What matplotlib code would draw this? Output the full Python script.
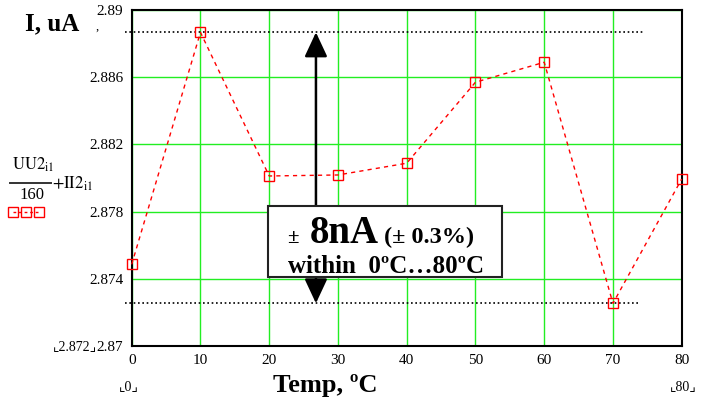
import matplotlib.pyplot as plt
from matplotlib.lines import Line2D
from matplotlib.patches import Rectangle

plt.rcParams['font.family'] = ['Liberation Serif', 'DejaVu Sans']
plt.rcParams['mathtext.fontset'] = 'stix'

# data
temp = [0, 10, 20, 30, 40, 50, 60, 70, 80]
current = [2.87486, 2.88867, 2.88012, 2.88018, 2.88088, 2.88570, 2.88689, 2.87254, 2.87994]
y_ticks = [2.87, 2.874, 2.878, 2.882, 2.886, 2.89]
y_tick_labels = ['2.87', '2.874', '2.878', '2.882', '2.886', '2.89']
x_ticks = [0, 10, 20, 30, 40, 50, 60, 70, 80]

W, H = 707, 403


def px(x, y):
    # pixel position -> figure fraction
    return x / W, 1 - y / H


fig = plt.figure(figsize=(W / 100, H / 100), dpi=100)
ax = fig.add_axes([131.7 / W, 1 - 346 / H, (681.7 - 131.7) / W, (346 - 10) / H])

ax.set_xlim(0, 80)
ax.set_ylim(2.87, 2.89)
ax.set_xticks(x_ticks)
ax.set_yticks(y_ticks)
ax.set_yticklabels(y_tick_labels)
ax.tick_params(length=0, labelsize=11, pad=6)
ax.grid(True, color='#22ee22', lw=1)
for s in ax.spines.values():
    s.set_color('black')
    s.set_linewidth(1.5)

# data line
ax.plot(temp, current, color='red', ls=(0, (3, 3)), lw=1, marker='s', ms=7,
        mfc='none', mec='red', mew=1, zorder=5, clip_on=False)

# max / min dotted lines
top = max(current)
bot = min(current)
ax.plot([-1, 74.5], [top, top], color='black', ls=(0, (1, 1.6)), lw=1.2, clip_on=False, zorder=3)
ax.plot([-1, 74], [bot, bot], color='black', ls=(0, (1, 1.6)), lw=1.2, clip_on=False, zorder=3)

# double arrow
ax.annotate('', xy=(26.8, top), xytext=(26.8, bot),
            arrowprops=dict(arrowstyle='<|-|>,head_length=0.75,head_width=0.35',
                            color='black', lw=1.8, shrinkA=0, shrinkB=0,
                            mutation_scale=20), zorder=6)

# text box
box = Rectangle((19.8, 2.87411), 53.9 - 19.8, 2.87833 - 2.87411, facecolor='white',
                edgecolor='#222222', lw=1.5, zorder=7)
ax.add_patch(box)
fig.text(*px(287, 243), '\u00b1', fontsize=15, fontweight='bold', zorder=8)
fig.text(*px(310, 243), '8nA', fontsize=28, fontweight='bold', zorder=8)
fig.text(*px(384, 243), '(\u00b1 0.3%)', fontsize=17.5, fontweight='bold', zorder=8)
fig.text(*px(386, 273), 'within  0\u00baC\u202680\u00baC',
         fontsize=18, fontweight='bold', ha='center', zorder=8)

# axis titles
fig.text(*px(25, 30), 'I, uA', fontsize=18, fontweight='bold', va='baseline')
fig.text(*px(325, 392), 'Temp, \u00baC', fontsize=19, fontweight='bold', ha='center')
fig.text(*px(96, 30), ',', fontsize=9)

# legend formula
fig.text(*px(12, 170), r'$\mathrm{UU2}_{\mathrm{i1}}$', fontsize=12)
fig.add_artist(Line2D([10 / W, 51 / W], [1 - 183 / H, 1 - 183 / H], color='#333333', lw=1.4))
fig.text(*px(19, 199), '160', fontsize=12)
fig.text(*px(52, 189), r'$+\mathrm{II2}_{\mathrm{i1}}$', fontsize=12)
sx = [13, 26, 39]
fig.add_artist(Line2D([x / W for x in sx], [1 - 212 / H] * 3, color='red', lw=1,
                      ls=(0, (2, 2)), marker='s', ms=6.5, mfc='none', mec='red'))

# range markers (Mathcad style)
fig.text(*px(97, 350), '\u231e2.872\u231f', fontsize=10, ha='right')
fig.text(*px(119, 390), '\u231e0\u231f', fontsize=10)
fig.text(*px(670, 390), '\u231e80\u231f', fontsize=10)

fig.savefig('out.png', dpi=100)
